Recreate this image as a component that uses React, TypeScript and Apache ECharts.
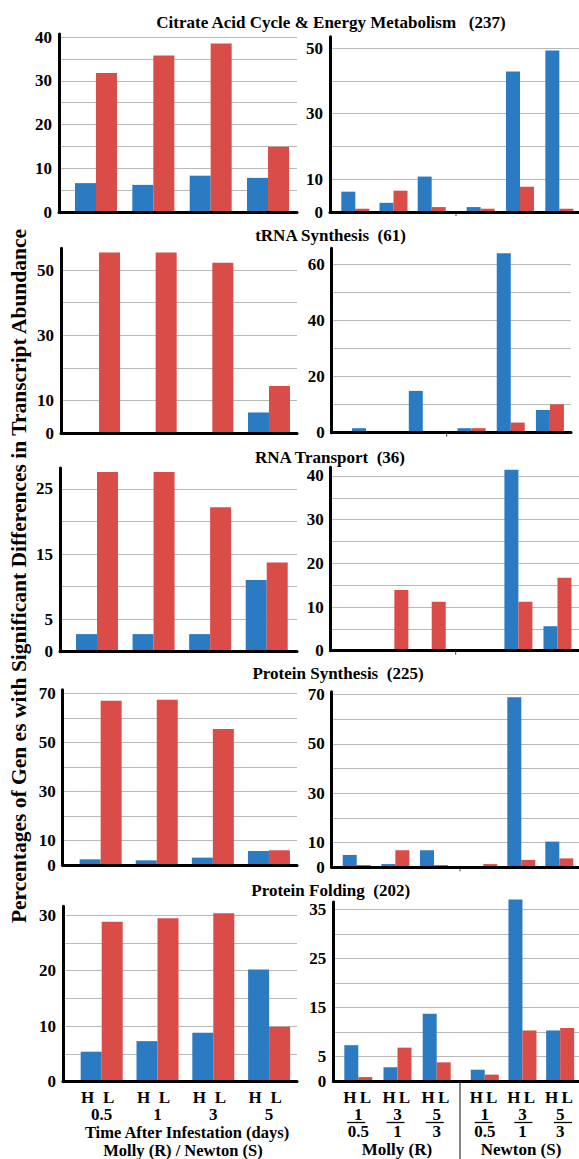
import React, { useEffect, useRef } from 'react';
import * as echarts from 'echarts';

// ---------- DATA ----------
const leftCategories = ['0.5', '1', '3', '5'];
const rightCategories = ['1/0.5', '3/1', '5/3'];

const panelTitles = [
  'Citrate Acid Cycle & Energy Metabolism   (237)',
  'tRNA Synthesis  (61)',
  'RNA Transport  (36)',
  'Protein Synthesis  (225)',
  'Protein Folding  (202)',
];
const yAxisTitle = 'Percentages of Gen es with Significant Differences in Transcript Abundance';
const xTitleLeft1 = 'Time After Infestation (days)';
const xTitleLeft2 = 'Molly (R) / Newton (S)';
const xTitleMolly = 'Molly (R)';
const xTitleNewton = 'Newton (S)';

// H = blue, L = red
const citrateLeftH = [6.6, 6.2, 8.3, 7.8];
const citrateLeftL = [31.8, 35.8, 38.5, 14.9];
const citrateRightH = [6.2, 2.8, 10.8, 1.5, 42.8, 49.2];
const citrateRightL = [1.0, 6.5, 1.5, 1.0, 7.7, 1.0];

const trnaLeftH = [0, 0, 0, 6.3];
const trnaLeftL = [55.4, 55.4, 52.2, 14.4];
const trnaRightH = [1.6, 0, 14.9, 1.6, 63.9, 8.1];
const trnaRightL = [0, 0, 0, 1.6, 3.6, 10.1];

const rnaLeftH = [2.7, 2.7, 2.7, 11.0];
const rnaLeftL = [27.6, 27.6, 22.2, 13.7];
const rnaRightH = [0, 0, 0, 0, 41.4, 5.6];
const rnaRightL = [0, 13.9, 11.2, 0, 11.2, 16.7];

const protSynLeftH = [2.3, 1.9, 3.0, 5.7];
const protSynLeftL = [67.0, 67.4, 55.5, 6.0];
const protSynRightH = [5.0, 1.3, 6.9, 0, 68.8, 10.4];
const protSynRightL = [0.9, 6.9, 0.9, 1.3, 3.0, 3.6];

const foldLeftH = [5.4, 7.3, 8.8, 20.2];
const foldLeftL = [28.8, 29.4, 30.3, 9.9];
const foldRightH = [7.3, 2.8, 13.7, 2.3, 37.0, 10.3];
const foldRightL = [0.8, 6.8, 3.8, 1.3, 10.3, 10.8];

const leftTickLabels = [[0, 10, 20, 30, 40], [0, 10, 30, 50], [0, 5, 15, 25], [0, 10, 30, 50, 70], [0, 10, 20, 30]];
const rightTickLabels = [[0, 10, 30, 50], [0, 20, 40, 60], [0, 10, 20, 30, 40], [0, 10, 30, 50, 70], [0, 5, 15, 25, 35]];

const panelData = [
  { lh: citrateLeftH, ll: citrateLeftL, rh: citrateRightH, rl: citrateRightL },
  { lh: trnaLeftH, ll: trnaLeftL, rh: trnaRightH, rl: trnaRightL },
  { lh: rnaLeftH, ll: rnaLeftL, rh: rnaRightH, rl: rnaRightL },
  { lh: protSynLeftH, ll: protSynLeftL, rh: protSynRightH, rl: protSynRightL },
  { lh: foldLeftH, ll: foldLeftL, rh: foldRightH, rl: foldRightL },
];

// ---------- LAYOUT ----------
const BLUE = '#2b7bc2';
const RED = '#d94c48';
const FONT = "'Liberation Serif', 'DejaVu Serif', serif";
const GRIDLINE = '#b8b8b8';

const layout = [
  {
    title: { x: 331, y: 22.7 },
    left: { axisX: 59, end: 297, zeroY: 212, ppu: 4.375, max: 40.7, interval: 5, bars: [67.3, 296.7] },
    right: { axisX: 330, end: 579, zeroY: 212, ppu: 3.28, max: 53.4, interval: 10, molly: [336.2, 450.8], newton: [461, 579], divider: 456 },
  },
  {
    title: { x: 330.5, y: 235 },
    left: { axisX: 61, end: 297, zeroY: 433, ppu: 3.26, max: 56.7, interval: 10, bars: [70.7, 297.3] },
    right: { axisX: 331.7, end: 571, zeroY: 432.7, ppu: 2.807, max: 65.7, interval: 10, molly: [351.8, 437], newton: [452, 569.5], divider: 446.7 },
  },
  {
    title: { x: 330, y: 457 },
    left: { axisX: 60, end: 297, zeroY: 651.7, ppu: 6.51, max: 28.2, interval: 5, bars: [68.7, 295] },
    right: { axisX: 330.7, end: 579, zeroY: 650.7, ppu: 4.37, max: 42, interval: 5, molly: [338.3, 450.4], newton: [459.8, 577], divider: 455.7 },
  },
  {
    title: { x: 338, y: 673 },
    left: { axisX: 62.7, end: 297, zeroY: 865, ppu: 2.452, max: 71.5, interval: 10, bars: [72.6, 297] },
    right: { axisX: 331.7, end: 579, zeroY: 867.3, ppu: 2.471, max: 71, interval: 10, molly: [337.4, 453.3], newton: [464.3, 578.3], divider: 460 },
  },
  {
    title: { x: 330.7, y: 890.5 },
    left: { axisX: 63, end: 297, zeroY: 1081.7, ppu: 5.556, max: 31.6, interval: 5, bars: [73.8, 297] },
    right: { axisX: 333.3, end: 579, zeroY: 1081, ppu: 4.906, max: 36.5, interval: 5, molly: [338.7, 456.3], newton: [465.9, 584.8], divider: 460 },
  },
];

const textBase = { fontFamily: FONT, fontWeight: 'bold', fontSize: 17, color: '#000' };

function buildOption() {
  const grid: any[] = [];
  const xAxis: any[] = [];
  const yAxis: any[] = [];
  const series: any[] = [];
  const graphic: any[] = [];

  const addAxisPanel = (p: any, labels: number[]) => {
    const top = p.zeroY - p.max * p.ppu;
    const gi = grid.length;
    grid.push({ left: p.axisX, top, width: p.end - p.axisX, height: p.zeroY - top });
    xAxis.push({
      gridIndex: gi, type: 'value', min: 0, max: 1, z: 5,
      axisLine: { show: true, onZero: false, lineStyle: { color: '#000', width: 3 } },
      axisTick: { show: false }, axisLabel: { show: false }, splitLine: { show: false },
    });
    yAxis.push({
      gridIndex: gi, type: 'value', min: 0, max: p.max, interval: p.interval,
      axisLine: { show: true, lineStyle: { color: '#000', width: 3 } },
      axisTick: { show: false },
      splitLine: { show: true, showMaxLine: false, lineStyle: { color: GRIDLINE, width: 1 } },
      axisLabel: {
        ...textBase, margin: 7, showMaxLabel: false,
        formatter: (v: number) => (labels.indexOf(v) >= 0 ? String(v) : ''),
      },
    });
  };

  const addBarGrid = (p: any, x0: number, x1: number, cats: string[], hi: number[], lo: number[], barWidth: number, axisLabel: any) => {
    const top = p.zeroY - p.max * p.ppu;
    const gi = grid.length;
    grid.push({ left: x0, top, width: x1 - x0, height: p.zeroY - top });
    xAxis.push({
      gridIndex: gi, type: 'category', data: cats, show: !!axisLabel,
      axisLine: { show: false }, axisTick: { show: false }, splitLine: { show: false },
      axisLabel: axisLabel || { show: false },
    });
    yAxis.push({ gridIndex: gi, type: 'value', min: 0, max: p.max, show: false });
    series.push({ type: 'bar', xAxisIndex: gi, yAxisIndex: gi, data: hi, barWidth, barGap: '0%', clip: false, itemStyle: { color: BLUE } });
    series.push({ type: 'bar', xAxisIndex: gi, yAxisIndex: gi, data: lo, barWidth, barGap: '0%', clip: false, itemStyle: { color: RED } });
  };

  const rs = (w: number) => ({ ...textBase, width: w, align: 'center' });
  const leftBottomLabel = {
    interval: 0, margin: 7, lineHeight: 17, ...textBase,
    formatter: (v: string) => `{h|H}{l|L}\n{n|${v}}`,
    rich: { h: { ...rs(14), lineHeight: 17 }, l: { ...rs(28), lineHeight: 17 }, n: { ...textBase, align: 'center', lineHeight: 17 } },
  };
  const rightBottomLabel = {
    interval: 0, margin: 8, lineHeight: 17, ...textBase,
    formatter: (v: string) => {
      const [a, b] = v.split('/');
      return `{h|H}{l|L}\n{n|${a}}\n{n|${b}}`;
    },
    rich: { h: { ...rs(14), lineHeight: 17 }, l: { ...rs(17), lineHeight: 17 }, n: { ...textBase, align: 'center', lineHeight: 17 } },
  };

  layout.forEach((row, r) => {
    const d = panelData[r];
    const isBottom = r === layout.length - 1;
    addAxisPanel(row.left, leftTickLabels[r]);
    addAxisPanel(row.right, rightTickLabels[r]);
    addBarGrid(row.left, row.left.bars[0], row.left.bars[1], leftCategories, d.lh, d.ll, 21, isBottom ? leftBottomLabel : null);
    addBarGrid(row.right, row.right.molly[0], row.right.molly[1], rightCategories, d.rh.slice(0, 3), d.rl.slice(0, 3), 14, isBottom ? rightBottomLabel : null);
    addBarGrid(row.right, row.right.newton[0], row.right.newton[1], rightCategories, d.rh.slice(3), d.rl.slice(3), 14, isBottom ? rightBottomLabel : null);

    graphic.push({
      type: 'text', x: row.title.x, y: row.title.y,
      style: { text: panelTitles[r], fill: '#000', font: `bold 17px ${FONT}`, textAlign: 'center', textVerticalAlign: 'middle', align: 'center', verticalAlign: 'middle' },
    });
    if (!isBottom) {
      graphic.push({
        type: 'line', shape: { x1: row.right.divider, y1: row.right.zeroY, x2: row.right.divider, y2: row.right.zeroY + 4 },
        style: { stroke: '#444', lineWidth: 1 },
      });
    } else {
      graphic.push({
        type: 'line', shape: { x1: row.right.divider, y1: row.right.zeroY, x2: row.right.divider, y2: 1159 },
        style: { stroke: '#333', lineWidth: 1.2 },
      });
      [row.right.molly, row.right.newton].forEach((g) => {
        const step = (g[1] - g[0]) / rightCategories.length;
        rightCategories.forEach((_, i) => {
          const c = g[0] + (i + 0.5) * step - 2;
          graphic.push({
            type: 'line', shape: { x1: c - 9, y1: 1122.5, x2: c + 9, y2: 1122.5 },
            style: { stroke: '#000', lineWidth: 1.3 },
          });
        });
      });
    }
  });

  const txt = (text: string, x: number, y: number, size = 17, rotation = 0) => ({
    type: 'text', x, y, rotation,
    style: { text, fill: '#000', font: `bold ${size}px ${FONT}`, textAlign: 'center', textVerticalAlign: 'middle', align: 'center', verticalAlign: 'middle' },
  });
  graphic.push(txt(yAxisTitle, 19, 576, 21.5, Math.PI / 2));
  graphic.push(txt(xTitleLeft1, 187, 1132.5, 16.5));
  graphic.push(txt(xTitleLeft2, 183, 1150, 16.5));
  graphic.push(txt(xTitleMolly, 397, 1149));
  graphic.push(txt(xTitleNewton, 521, 1149));

  return { animation: false, backgroundColor: '#fff', grid, xAxis, yAxis, series, graphic };
}

export default function App() {
  const ref = useRef<HTMLDivElement>(null);
  useEffect(() => {
    const chart = echarts.init(ref.current!, null, { renderer: 'svg' });
    chart.setOption(buildOption() as any);
    return () => chart.dispose();
  }, []);
  return (
    <div
      ref={ref}
      style={{ position: 'fixed', left: 0, top: 0, width: 579, height: 1159, background: '#fff' }}
    />
  );
}
